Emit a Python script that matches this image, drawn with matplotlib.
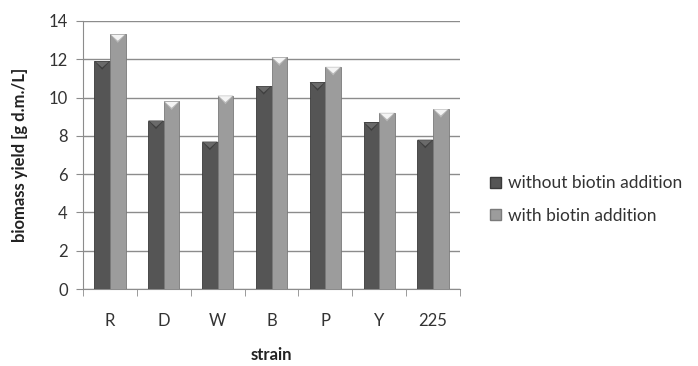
import matplotlib.pyplot as plt
import numpy as np
from matplotlib.patches import Patch

plt.rcParams['font.family'] = ['Lato', 'DejaVu Sans']

strains = ['R', 'D', 'W', 'B', 'P', 'Y', '225']
without_biotin = [11.9, 8.8, 7.7, 10.6, 10.8, 8.7, 7.8]
with_biotin = [13.3, 9.8, 10.1, 12.1, 11.6, 9.2, 9.4]
series_labels = ['without biotin addition', 'with biotin addition']
y_ticks = [0, 2, 4, 6, 8, 10, 12, 14]

dark = '#555555'
light = '#9c9c9c'


def bevel(ax, bars, face, tip):
    # little pointed cap on top of each bar, like the office 3D bar style
    for b in bars:
        x0 = b.get_x()
        w = b.get_width()
        h = b.get_height()
        d = 0.45
        ax.fill([x0, x0 + w, x0 + w / 2], [h, h, h - d], color=tip, zorder=4, lw=0)
        ax.fill([x0 + w * 0.08, x0 + w * 0.92, x0 + w / 2],
                [h - 0.03, h - 0.03, h - d * 0.75], color=face, zorder=4, lw=0)


fig = plt.figure(figsize=(6.98, 3.66), dpi=100)
ax = fig.add_axes([0.119, 0.21, 0.54, 0.733])

x = np.arange(len(strains))
w = 0.29
b1 = ax.bar(x - w / 2, without_biotin, w, color=dark, edgecolor='#3a3a3a', lw=0.6, zorder=3)
b2 = ax.bar(x + w / 2, with_biotin, w, color=light, edgecolor='#7a7a7a', lw=0.6, zorder=3)
bevel(ax, b1, '#6a6a6a', '#3f3f3f')
bevel(ax, b2, '#f4f4f4', '#b8b8b8')

ax.set_xlim(-0.5, len(strains) - 0.5)
ax.set_ylim(0, 14)
ax.set_yticks(y_ticks)
ax.yaxis.grid(True, color='#8c8c8c', lw=1)
ax.set_axisbelow(True)

ax.set_xticks(x)
ax.set_xticklabels(strains)
ax.set_xticks(np.arange(len(strains) + 1) - 0.5, minor=True)
ax.tick_params(axis='x', which='major', length=0, pad=17, labelsize=12, labelcolor='#333333')
ax.tick_params(axis='x', which='minor', length=5, color='#8c8c8c')
ax.tick_params(axis='y', length=5, color='#8c8c8c', labelsize=12, labelcolor='#333333', pad=6)

for s in ['top', 'right']:
    ax.spines[s].set_visible(False)
for s in ['left', 'bottom']:
    ax.spines[s].set_color('#8c8c8c')

ax.set_ylabel('biomass yield [g d.m./L]', fontweight='bold', fontsize=12, color='#222222', labelpad=15)
ax.set_xlabel('strain', fontweight='bold', fontsize=12, color='#222222', labelpad=13)

handles = [Patch(facecolor=dark, edgecolor='#3a3a3a'), Patch(facecolor=light, edgecolor='#7a7a7a')]
fig.legend(handles, series_labels, loc='center left', bbox_to_anchor=(0.68, 0.455),
           frameon=False, fontsize=12.5, handlelength=0.6, handleheight=0.6,
           handletextpad=0.4, labelspacing=0.95, labelcolor='#333333')

fig.savefig('out.png', dpi=100)
